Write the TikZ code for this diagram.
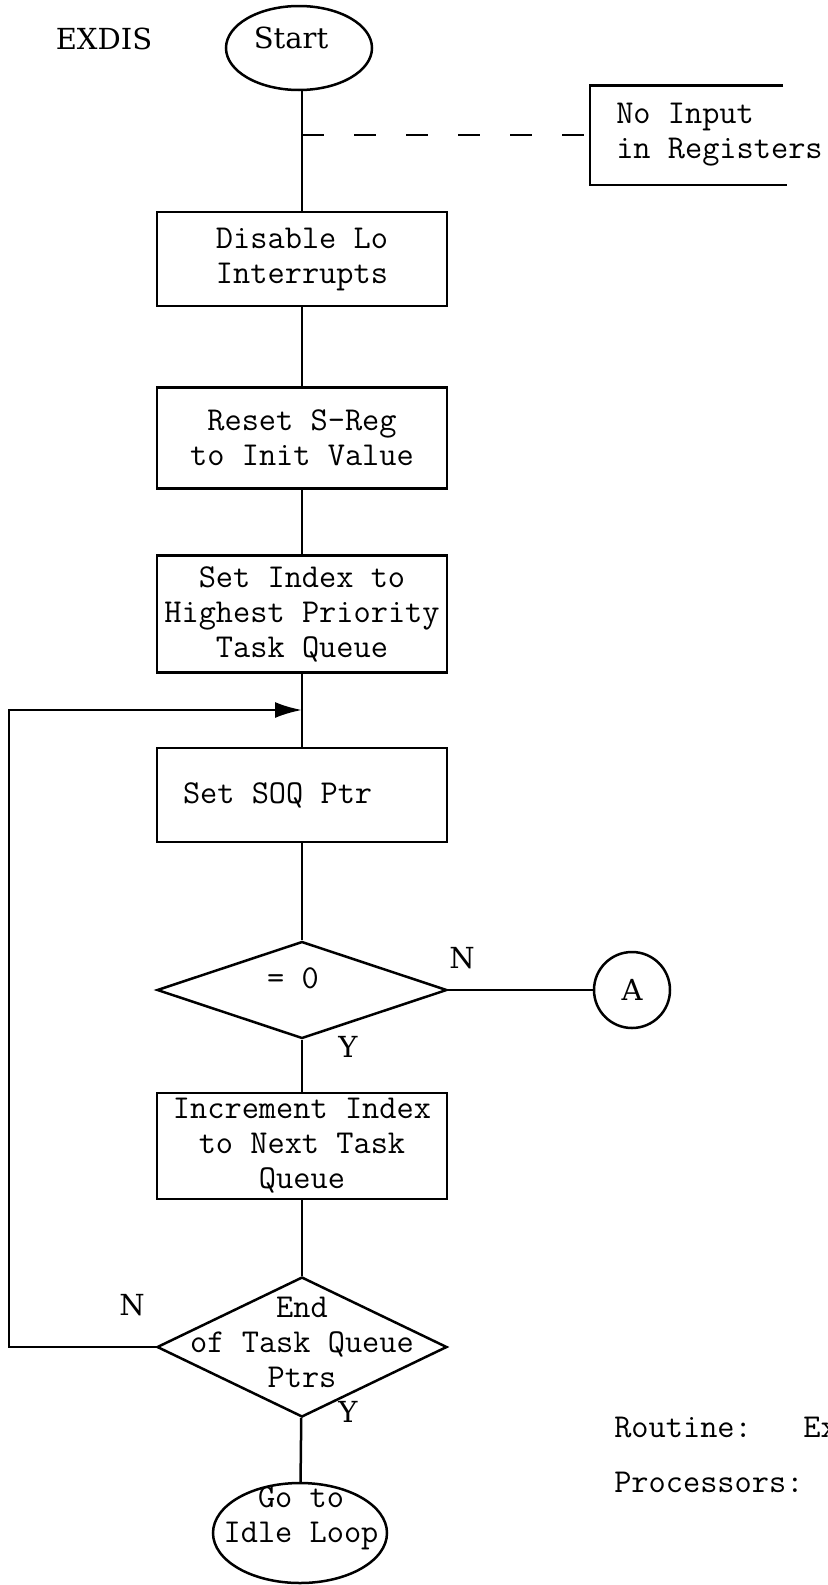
\documentclass[tikz,border=0pt]{standalone}
\usepackage{fontspec}
\usepackage{tikz}
\usetikzlibrary{shapes.geometric,arrows.meta}
\newfontfamily\centfont{DejaVu Serif}
\newcommand{\typed}{\fontsize{16.7}{17.5}\selectfont\ttfamily}
\newcommand{\serif}{\centfont\fontsize{14.5}{17}\selectfont}

\begin{document}
\begin{tikzpicture}[x=0.5pt,y=0.5pt,line width=1.25pt,
  box/.style={draw,rectangle,minimum width=145pt,inner xsep=2pt,inner ysep=0pt,align=center,font=\typed},
  oval/.style={draw,ellipse,inner sep=0pt},
  test/.style={draw,diamond,inner sep=0pt,minimum width=145pt},
  typed/.style={inner sep=0pt,align=center,font=\typed},
  serif/.style={inner sep=0pt,font=\serif}]
\useasboundingbox (0,0) rectangle (828,-1585);
\node[serif] (exdis) at (104,-39){EXDIS};
\node[oval,minimum width=73pt,minimum height=42pt] (node) at (299,-48){};
\node[serif] (nodet) at (291,-38){Start};
\node[box,minimum height=47pt] (node0) at (302,-259){Disable Lo\\Interrupts};
\node[box,minimum height=50.5pt] (node00) at (302,-438){Reset S-Reg\\to Init Value};
\node[box,minimum height=58.5pt] (node000) at (302,-614){Set Index to\\Highest Priority\\Task Queue};
\node[box,minimum height=47pt] (node0000) at (302,-795){\makebox[140pt][l]{\hspace{10.5pt}Set SOQ Ptr}};
\node[test,minimum height=48.5pt] (node00000) at (302,-990){};
\node[typed] (node00000t) at (293,-978){= 0};
\node[serif] (node00000n) at (462,-958){N};
\node[serif] (node00000y) at (348,-1047){Y};
\node[draw,circle,minimum size=38pt,inner sep=0pt,font=\serif] (node00001) at (632,-990){A};
\node[box,minimum height=53pt] (node000000) at (302,-1146){Increment Index\\to Next Task\\Queue};
\node[test,minimum height=70pt] (node0000000) at (302,-1347){};
\node[typed] (node0000000t) at (302,-1342){End\\of Task Queue\\Ptrs};
\node[serif] (node0000000n) at (132,-1305){N};
\node[serif] (node0000000y) at (348,-1412){Y};
\node[oval,minimum width=87pt,minimum height=50pt] (node00000000) at (300,-1533){};
\node[typed] (node00000000t) at (301,-1518){Go to\\Idle Loop};
\node[typed,anchor=west,minimum height=48.5pt,inner xsep=12.5pt] (node1) at (590,-135){No Input\hphantom{xxxx}\\in Registers};
\node[typed,anchor=west] (node2) at (613,-1427){Routine:\ \ \ Ex};
\node[typed,anchor=west] (node3) at (613,-1482){Processors:};
\coordinate (node01) at (302,-135);
\coordinate (node0001) at (302,-710);
\draw(node.south -| node0) -- (node0);
\draw(node0) -- (node00);
\draw(node00) -- (node000);
\draw(node000) -- (node0000);
\draw(node0000) -- (node00000);
\draw(node00000) -- (node00001);
\draw(node00000) -- (node000000);
\draw(node000000) -- (node0000000);
\draw(node0000000) -- (node00000000);
\draw[-{Latex[length=13.5pt,width=8pt]}](node0000000.west) -- (9,-1347) |- (node0001);
\draw[dash pattern=on 11pt off 15pt](node01) -- (node1.west);
\draw([xshift=96.5pt]node1.north west) -- (node1.north west) -- (node1.south west) -- ([xshift=98.5pt]node1.south west);
\end{tikzpicture}
\end{document}
